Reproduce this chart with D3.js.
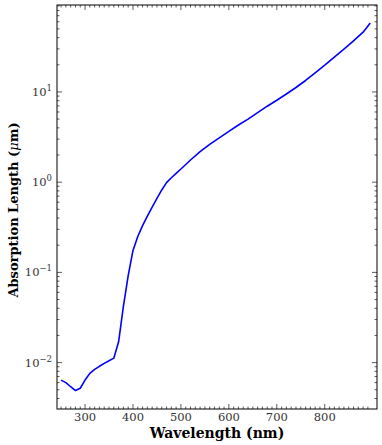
<!DOCTYPE html>
<html>
<head>
<meta charset="utf-8">
<script src="https://cdn.jsdelivr.net/npm/d3@7"></script>
<style>
  body { margin: 0; background: #fff; }
  text { font-family: "DejaVu Serif", "Liberation Serif", serif; }
</style>
</head>
<body>
<div id="chart"></div>
<script>
// Absorption length vs wavelength
var wavelength = [250, 260, 270, 280, 290, 300, 310, 320, 330, 340, 350, 360, 370, 380, 390,
                  400, 410, 420, 430, 440, 450, 460, 470, 480, 490, 500, 520, 540, 560, 580,
                  600, 620, 640, 660, 680, 700, 720, 740, 760, 780, 800, 820, 840, 860, 880, 895];
var absLength = [0.0064, 0.0060, 0.0054, 0.0049, 0.0052, 0.0064, 0.0076, 0.0084, 0.0091, 0.0098,
                 0.0105, 0.0112, 0.0170, 0.042, 0.092, 0.175, 0.25, 0.33, 0.42, 0.53,
                 0.66, 0.82, 0.99, 1.12, 1.25, 1.40, 1.76, 2.18, 2.62, 3.10,
                 3.65, 4.3, 5.0, 5.9, 6.95, 8.1, 9.5, 11.2, 13.4, 16.3,
                 19.8, 24.3, 29.8, 36.8, 46, 58];

var xTicks = [300, 400, 500, 600, 700, 800];
var yTicks = [0.01, 0.1, 1, 10];
var yTickExp = ["\u22122", "\u22121", "0", "1"];

var width = 382, height = 445;
var margin = {top: 5, right: 5, bottom: 36, left: 57};
var w = width - margin.left - margin.right,
    h = height - margin.top - margin.bottom;

var svg = d3.select("#chart").append("svg")
  .attr("width", width)
  .attr("height", height);

var g = svg.append("g")
  .attr("transform", "translate(" + margin.left + "," + margin.top + ")");

var x = d3.scaleLinear().domain([241.5, 909]).range([0, w]);
var y = d3.scaleLog().domain([0.00306, 92]).range([h, 0]);

// minor ticks
var xMinor = d3.range(250, 910, 10).filter(function(d) { return d % 100 != 0; });
var yMinor = [];
[0.001, 0.01, 0.1, 1, 10].forEach(function(base) {
  for (var k = 2; k <= 9; k++) {
    var v = base * k;
    if (v >= 0.00306 && v <= 92) yMinor.push(v);
  }
});

var tickColor = "#333";

// x ticks bottom + top (inward)
function xTickMarks(vals, len) {
  g.selectAll(null).data(vals).enter().append("line")
    .attr("x1", function(d) { return x(d); }).attr("x2", function(d) { return x(d); })
    .attr("y1", h).attr("y2", h - len)
    .attr("stroke", tickColor).attr("stroke-width", 0.8);
  g.selectAll(null).data(vals).enter().append("line")
    .attr("x1", function(d) { return x(d); }).attr("x2", function(d) { return x(d); })
    .attr("y1", 0).attr("y2", len)
    .attr("stroke", tickColor).attr("stroke-width", 0.8);
}
function yTickMarks(vals, len) {
  g.selectAll(null).data(vals).enter().append("line")
    .attr("y1", function(d) { return y(d); }).attr("y2", function(d) { return y(d); })
    .attr("x1", 0).attr("x2", len)
    .attr("stroke", tickColor).attr("stroke-width", 0.8);
  g.selectAll(null).data(vals).enter().append("line")
    .attr("y1", function(d) { return y(d); }).attr("y2", function(d) { return y(d); })
    .attr("x1", w).attr("x2", w - len)
    .attr("stroke", tickColor).attr("stroke-width", 0.8);
}
xTickMarks(xTicks, 5);
xTickMarks(xMinor, 2.5);
yTickMarks(yTicks, 5);
yTickMarks(yMinor, 2.5);

// x tick labels
g.selectAll(".xlab").data(xTicks).enter().append("text")
  .attr("class", "xlab")
  .attr("x", function(d) { return x(d); })
  .attr("y", h + 12)
  .attr("text-anchor", "middle")
  .attr("font-size", 11.5)
  .attr("fill", "#333")
  .text(function(d) { return d; });

// y tick labels as powers of ten
var ylab = g.selectAll(".ylab").data(yTicks).enter().append("text")
  .attr("class", "ylab")
  .attr("x", -5)
  .attr("y", function(d) { return y(d) + 4; })
  .attr("text-anchor", "end")
  .attr("font-size", 11.5)
  .attr("fill", "#333");
ylab.append("tspan").text("10");
ylab.append("tspan")
  .attr("dy", -5)
  .attr("font-size", 8.5)
  .text(function(d, i) { return yTickExp[i]; });

// the curve
var line = d3.line()
  .x(function(d) { return x(d[0]); })
  .y(function(d) { return y(d[1]); });

g.append("path")
  .datum(d3.zip(wavelength, absLength))
  .attr("d", line)
  .attr("fill", "none")
  .attr("stroke", "#0000ff")
  .attr("stroke-width", 1.6)
  .attr("stroke-linejoin", "round");

// frame
g.append("rect")
  .attr("width", w).attr("height", h)
  .attr("fill", "none")
  .attr("stroke", "#000")
  .attr("stroke-width", 1);

// axis titles
svg.append("text")
  .attr("x", margin.left + w / 2)
  .attr("y", 438)
  .attr("text-anchor", "middle")
  .attr("font-size", 14)
  .attr("font-weight", "bold")
  .text("Wavelength (nm)");

var yt = svg.append("text")
  .attr("transform", "translate(18,210) rotate(-90)")
  .attr("text-anchor", "middle")
  .attr("font-size", 13)
  .attr("font-weight", "bold");
yt.append("tspan").text("Absorption Length (");
yt.append("tspan").attr("font-style", "italic").attr("font-weight", "normal").text("\u03bc");
yt.append("tspan").text("m)");
</script>
</body>
</html>
